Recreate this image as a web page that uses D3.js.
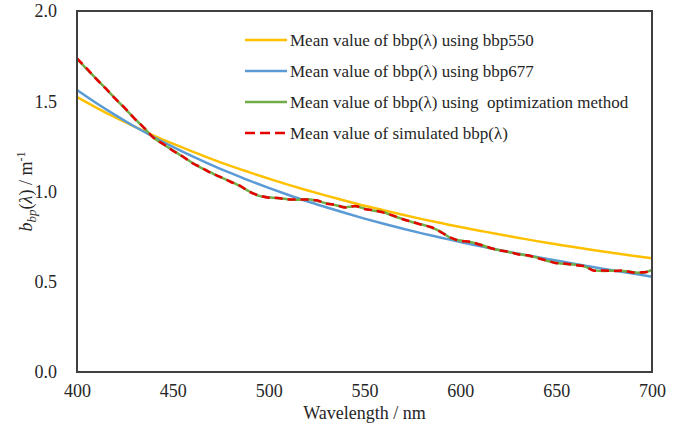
<!DOCTYPE html>
<html>
<head>
<meta charset="utf-8">
<script src="https://cdn.jsdelivr.net/npm/d3@7"></script>
<style>
  html, body { margin: 0; padding: 0; background: #fff; }
  svg { display: block; }
  svg text { font-family: 'Liberation Serif', 'Times New Roman', serif; }
</style>
</head>
<body>
<svg id="chart" width="678" height="433"></svg>
<script>
// Wavelength grid (nm) for the fitted power-law curves
const wlFit = [400,410,420,430,440,450,460,470,480,490,500,510,520,530,540,550,560,570,580,590,600,610,620,630,640,650,660,670,680,690,700];
// Mean bbp(λ) derived from bbp550
const bbpFrom550 = [1.523,1.465,1.410,1.359,1.310,1.265,1.222,1.181,1.142,1.106,1.071,1.038,1.007,0.977,0.949,0.921,0.896,0.871,0.847,0.825,0.803,0.783,0.763,0.744,0.725,0.708,0.691,0.675,0.659,0.644,0.630];
// Mean bbp(λ) derived from bbp677
const bbpFrom677 = [1.562,1.490,1.423,1.360,1.302,1.247,1.196,1.148,1.103,1.060,1.020,0.982,0.946,0.913,0.881,0.850,0.821,0.794,0.768,0.744,0.720,0.698,0.676,0.656,0.637,0.618,0.598,0.580,0.562,0.545,0.528];

// Wavelength grid (nm) for the spectrally resolved curves
const wlSpec = [400,405,410,415,420,425,430,435,440,445,450,455,460,465,470,475,480,485,490,495,500,505,510,515,520,525,530,535,540,545,550,555,560,565,570,575,580,585,590,595,600,605,610,615,620,625,630,635,640,645,650,655,660,665,670,675,680,685,690,695,700];
// Mean bbp(λ) from the optimization method
const bbpOptim = [1.735,1.680,1.625,1.570,1.515,1.460,1.405,1.352,1.298,1.262,1.228,1.194,1.160,1.130,1.104,1.078,1.056,1.030,1.000,0.976,0.968,0.962,0.957,0.954,0.957,0.949,0.935,0.924,0.913,0.918,0.905,0.893,0.885,0.864,0.848,0.830,0.817,0.800,0.776,0.742,0.728,0.720,0.708,0.688,0.676,0.665,0.654,0.645,0.634,0.616,0.605,0.598,0.594,0.584,0.563,0.560,0.561,0.560,0.553,0.550,0.566];
// Mean simulated bbp(λ)
const bbpSim = [1.738,1.682,1.624,1.571,1.514,1.462,1.404,1.353,1.297,1.263,1.226,1.195,1.158,1.132,1.102,1.080,1.054,1.032,0.998,0.978,0.966,0.964,0.955,0.956,0.955,0.951,0.933,0.926,0.911,0.920,0.903,0.895,0.883,0.866,0.846,0.832,0.815,0.802,0.774,0.744,0.726,0.722,0.706,0.690,0.674,0.667,0.652,0.647,0.632,0.618,0.603,0.600,0.592,0.586,0.561,0.562,0.559,0.562,0.551,0.552,0.560];

const xTicks = [400,450,500,550,600,650,700];
const yTicks = [0.0,0.5,1.0,1.5,2.0];

const series = [
  { name: "Mean value of bbp(λ) using bbp550", x: wlFit, y: bbpFrom550, color: "#FFC000", dash: null },
  { name: "Mean value of bbp(λ) using bbp677", x: wlFit, y: bbpFrom677, color: "#5B9BD5", dash: null },
  { name: "Mean value of bbp(λ) using  optimization method", x: wlSpec, y: bbpOptim, color: "#70AD47", dash: null },
  { name: "Mean value of simulated bbp(λ)", x: wlSpec, y: bbpSim, color: "#E60000", dash: "8,5" }
];

const svg = d3.select("#chart");
const m = { left: 77, right: 652, top: 11, bottom: 372 };
const INK = "#262626";

const x = d3.scaleLinear().domain([400, 700]).range([m.left, m.right]);
const y = d3.scaleLinear().domain([0, 2]).range([m.bottom, m.top]);

// Axes: labels only, the frame is drawn separately
const xAxis = svg.append("g")
  .attr("transform", `translate(0,${m.bottom})`)
  .call(d3.axisBottom(x).tickValues(xTicks).tickSize(0).tickPadding(12).tickFormat(d3.format("d")));
const yAxis = svg.append("g")
  .attr("transform", `translate(${m.left},0)`)
  .call(d3.axisLeft(y).tickValues(yTicks).tickSize(0).tickPadding(20).tickFormat(d3.format(".1f")));
[xAxis, yAxis].forEach(g => {
  g.attr("font-family", null).attr("font-size", 18);
  g.select(".domain").remove();
  g.selectAll("text").attr("fill", INK);
});

// Curves
const line = d3.line().x(d => x(d[0])).y(d => y(d[1])).curve(d3.curveMonotoneX);
const plot = svg.append("g");
series.forEach(s => {
  const pts = s.x.map((w, i) => [w, s.y[i]]);
  plot.append("path")
    .attr("d", line(pts))
    .attr("fill", "none")
    .attr("stroke", s.color)
    .attr("stroke-width", 2.5)
    .attr("stroke-dasharray", s.dash)
    .attr("stroke-linejoin", "round");
});

// Plot frame
svg.append("rect")
  .attr("x", m.left).attr("y", m.top)
  .attr("width", m.right - m.left).attr("height", m.bottom - m.top)
  .attr("fill", "none").attr("stroke", "#404040").attr("stroke-width", 2);

// Legend
const leg = svg.append("g").attr("font-size", 17);
series.forEach((s, i) => {
  const ly = 40 + i * 31;
  leg.append("line")
    .attr("x1", 245).attr("x2", 287).attr("y1", ly).attr("y2", ly)
    .attr("stroke", s.color).attr("stroke-width", 2.5)
    .attr("stroke-dasharray", s.dash ? "10,5" : null);
  leg.append("text")
    .attr("x", 290).attr("y", ly).attr("dy", "0.33em")
    .attr("fill", INK)
    .style("white-space", "pre")
    .text(s.name);
});

// Axis titles
svg.append("text")
  .attr("x", (m.left + m.right) / 2).attr("y", 419)
  .attr("text-anchor", "middle")
  .attr("font-size", 18).attr("fill", INK)
  .text("Wavelength / nm");

const yt = svg.append("text")
  .attr("transform", `translate(32,${(m.top + m.bottom) / 2}) rotate(-90)`)
  .attr("text-anchor", "middle")
  .attr("font-size", 18).attr("fill", INK);
yt.append("tspan").attr("font-style", "italic").text("b");
yt.append("tspan").attr("font-style", "italic").attr("font-size", 13).attr("dy", 4).text("bp");
yt.append("tspan").attr("dy", -4).text("(");
yt.append("tspan").attr("font-style", "italic").text("λ");
yt.append("tspan").text(") / m");
yt.append("tspan").attr("font-size", 12).attr("dy", -7).text("-1");
</script>
</body>
</html>
